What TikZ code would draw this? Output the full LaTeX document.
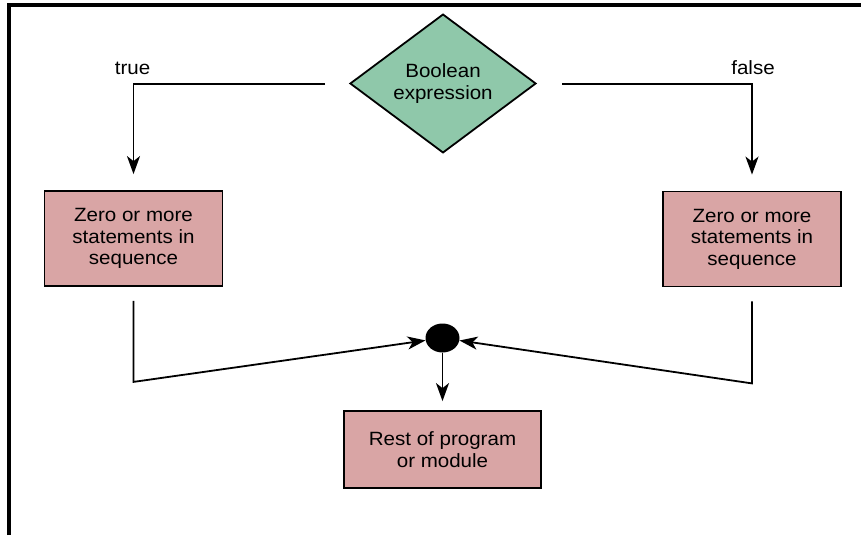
\documentclass[tikz,border=0pt]{standalone}
\usepackage{fontspec}
\setmainfont{Liberation Sans}[FakeStretch=1.07]
\usetikzlibrary{shapes.geometric,arrows.meta}

\definecolor{boxpink}{RGB}{217,165,165}
\definecolor{testgreen}{RGB}{143,200,170}

\tikzset{
  stmt/.style={draw, line width=1.8, fill=boxpink, minimum width=178, minimum height=95,
    inner sep=0pt, align=center, font=\fontsize{19.2}{21.5}\selectfont},
  flow/.style={line width=1.8, -{Stealth[length=18, width=13, inset=5]}},
  branch/.style={font=\fontsize{19.2}{21.5}\selectfont},
}

\begin{document}
\begin{tikzpicture}[x=1pt,y=-1pt]
\useasboundingbox (0,0) rectangle (861,535);
\draw [line width=3.2] (9,535) -- (9,5) -- (861,5);

\node [diamond, draw, line width=1.8, fill=testgreen, minimum width=186, minimum height=113,
  inner sep=0pt, align=center, font=\fontsize{19.2}{21.5}\selectfont] (test) at (443,83.5) {Boolean\\expression};
\node [stmt] (thenpart) at (133.5,238.5) {Zero or more\\statements in\\sequence};
\node [stmt] (elsepart) at (752,239) {Zero or more\\statements in\\sequence};
\node [stmt, minimum width=197, minimum height=77] (rest) at (442.5,449.5) {Rest of program\\or module};
\node [ellipse, fill=black, minimum width=34, minimum height=29, inner sep=0pt] (join) at (442.5,338) {};

\node [branch] (truelabel) at (132.5,68) {true};
\node [branch] (falselabel) at (753,68) {false};

\coordinate (trueout) at (325,84);
\coordinate (falseout) at (562,84);

\draw [flow, shorten >=16] (trueout) -| (thenpart.north);
\draw [flow, shorten >=16] (falseout) -| (elsepart.north);

\draw [flow, shorten <=14] (thenpart.south) -- ++(0,95) -- (join);
\draw [flow, shorten <=14] (elsepart.south) -- ++(0,96) -- (join);
\draw [flow, shorten >=9] (join.south) -- (rest.north);
\end{tikzpicture}
\end{document}
